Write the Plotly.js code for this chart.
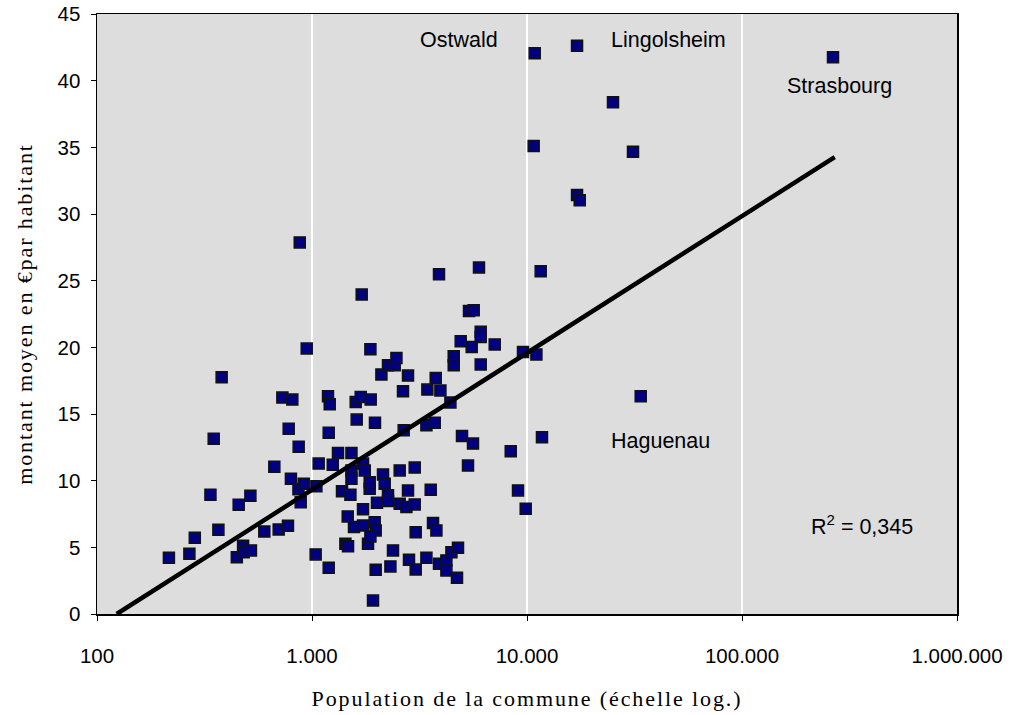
<!DOCTYPE html>
<html><head><meta charset="utf-8">
<script src="https://cdn.plot.ly/plotly-3.0.1.min.js"></script>
<style>body{margin:0;background:#fff}#chart{width:1013px;height:715px}
.xtitle,.ytitle{letter-spacing:1.9px}</style>
</head><body><div id="chart"></div>
<script>
// Population de la commune
const population = [216,269,285,337,349,367,380,447,456,478,481,517,520,600,668,700,728,773,779,798,810,865,867,877,886,915,945,
1040,1048,1074,1187,1209,1196,1196,1249,1321,1379,1466,1430,1471,1509,1526,1526,1526,1568,1597,1614,1685,1703,1727,1759,1727,1727,
1822,1855,1869,1875,1855,1922,1963,1957,1978,1869,1978,2006,2103,2139,2178,2257,2257,2257,2316,2381,2425,2470,2558,2558,2650,2670,
2748,2796,2796,2826,3004,3004,3036,3036,3405,3405,3441,3566,3655,3722,3762,3790,3897,3897,3956,4218,4218,4403,4451,4562,4562,4725,
4776,4916,4985,5316,5373,5651,5531,5608,5980,6091,6091,6091,7077,8402,9082,9581,9863,11060,11580,11740,10860,10740,17090,25120,
31120,17090,17590,33800,265000];
// montant moyen en € par habitant
const montant = [4.22,4.52,5.72,8.95,13.15,6.32,17.76,4.26,8.20,5.12,4.64,8.87,4.77,6.19,11.05,6.34,16.23,6.62,13.90,10.15,16.08,9.35,12.55,27.87,8.39,9.77,19.91,
4.47,9.59,11.28,16.33,15.73,13.60,3.47,11.20,12.07,9.20,7.32,5.27,5.09,8.95,12.07,10.77,10.15,6.52,15.90,14.58,16.28,23.96,11.28,10.77,7.85,6.64,
5.27,9.40,19.86,16.08,9.89,1.01,14.35,6.89,6.27,5.82,3.32,8.35,17.96,10.47,9.77,18.66,8.90,8.47,3.57,4.77,18.66,19.20,10.77,8.27,16.70,13.78,
8.02,17.88,9.27,4.07,10.98,8.22,6.14,3.34,14.15,4.22,16.83,9.32,6.82,14.35,17.70,6.27,25.49,3.77,16.76,4.02,3.27,15.86,4.64,19.33,18.66,2.72,
4.97,20.46,13.35,11.13,22.73,22.79,20.03,12.78,25.99,21.16,20.78,18.71,20.21,12.20,9.27,19.65,7.90,19.46,25.71,13.25,42.06,35.10,42.61,38.38,
34.67,31.42,31.04,16.33,41.76];
// Logarithmic trend line (end points)
const trendPopulation = [123.5, 269900];
const trendMontant = [0, 34.27];
const xTickValues = [100, 1000, 10000, 100000, 1000000];
const xTickLabels = ["100", "1.000", "10.000", "100.000", "1.000.000"];
const yTickValues = [0, 5, 10, 15, 20, 25, 30, 35, 40, 45];
const cityLabels = ["Ostwald", "Lingolsheim", "Strasbourg", "Haguenau"];
const r2Text = "R<sup>2</sup> = 0,345";

const sans = "Liberation Sans, Arial, sans-serif";
const serif = "Liberation Serif, Times New Roman, serif";

const traces = [
  {type: "scatter", mode: "markers", x: population, y: montant,
   marker: {symbol: "square", size: 11, color: "#000080", line: {color: "#111", width: 1.5}},
   hoverinfo: "x+y", showlegend: false},
  {type: "scatter", mode: "lines", x: trendPopulation, y: trendMontant,
   line: {color: "#000", width: 4.5}, hoverinfo: "skip", showlegend: false}
];

const labelPos = [[0.3729, 0.9566], [0.595, 0.9566], [0.7997, 0.8799], [0.595, 0.2877]];
const annotations = cityLabels.map((t, i) => ({
  text: t, xref: "paper", yref: "paper", x: labelPos[i][0], y: labelPos[i][1],
  xanchor: "left", yanchor: "middle", showarrow: false, font: {family: sans, size: 21.5, color: "#000"}
}));
annotations.push({text: r2Text, xref: "paper", yref: "paper", x: 0.8276, y: 0.1476,
  xanchor: "left", yanchor: "middle", showarrow: false, font: {family: sans, size: 21.5, color: "#000"}});

const layout = {
  width: 1013, height: 715,
  margin: {l: 97, r: 56, t: 14, b: 101},
  paper_bgcolor: "#fff", plot_bgcolor: "#dddddd",
  showlegend: false,
  xaxis: {type: "log", range: [2, 6], tickvals: xTickValues, ticktext: xTickLabels,
    showgrid: true, gridcolor: "#ffffff", gridwidth: 1.5, zeroline: false,
    showline: true, linecolor: "#000", linewidth: 1.5, mirror: true,
    ticks: "outside", ticklen: 5, tickcolor: "#000", ticklabelstandoff: 18,
    tickfont: {family: sans, size: 20.5, color: "#000"},
    title: {text: "Population de la commune (échelle log.)", font: {family: serif, size: 22, color: "#000"}, standoff: 24}},
  yaxis: {range: [0, 45], tickvals: yTickValues, showgrid: false, zeroline: false,
    showline: true, linecolor: "#000", linewidth: 1.5, mirror: true,
    ticks: "outside", ticklen: 5, tickcolor: "#000", ticklabelstandoff: 6,
    tickfont: {family: sans, size: 20.5, color: "#000"},
    title: {text: "montant moyen en €par habitant", font: {family: serif, size: 22, color: "#000"}, standoff: 19}},
  annotations: annotations
};

Plotly.newPlot("chart", traces, layout, {displayModeBar: false, staticPlot: true});
</script>
</body></html>
